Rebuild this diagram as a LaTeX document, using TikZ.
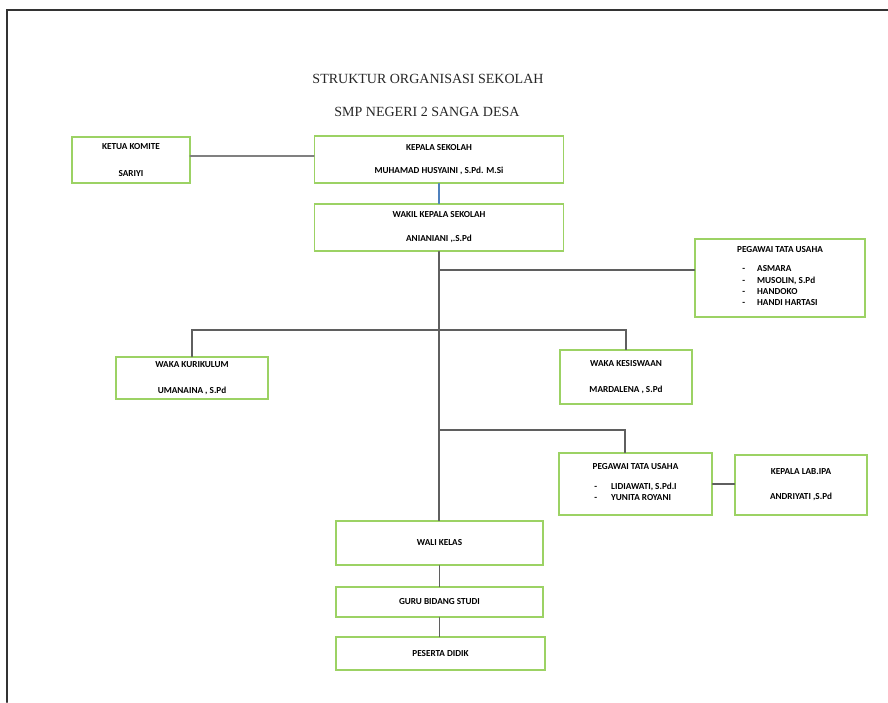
\documentclass[tikz,border=0pt]{standalone}
\usepackage{fontspec}
\setmainfont{Liberation Serif}
\newfontfamily\boxfont{Carlito}
\usetikzlibrary{positioning}
\definecolor{boxgreen}{RGB}{156,210,100}
\definecolor{linegray}{RGB}{95,95,95}
\definecolor{lineblue}{RGB}{79,129,189}

\begin{document}
\begin{tikzpicture}[x=1pt,y=-1pt,line cap=round,
    box/.style={draw=boxgreen,line width=1.1pt,fill=white,inner sep=0pt,align=center,
                font=\boxfont\bfseries\fontsize{9.2}{11.3}\selectfont},
    twoline/.style={font=\boxfont\bfseries\fontsize{9.2}{#1}\selectfont},
    conn/.style={draw=linegray,line width=1.2pt},
    title/.style={font=\fontsize{14}{16}\selectfont,text=black!85}]

    \useasboundingbox (0,0) rectangle (888,702);
    % page frame
    \draw[line width=2.4pt,black!80] (7,702) -- (7,10) -- (888,10);

    % titles
    \node[title] (t1) at (428,79) {STRUKTUR ORGANISASI SEKOLAH};
    \node[title] (t2) at (427,112) {SMP NEGERI 2 SANGA DESA};

    % boxes
    \node[box,twoline=27,minimum width=118,minimum height=46] (komite) at (131,160) {KETUA KOMITE\\SARIYI};
    \node[box,twoline=23,minimum width=249,minimum height=47] (kepala) at (439,159.5) {KEPALA SEKOLAH\\MUHAMAD HUSYAINI , S.Pd. M.Si};
    \node[box,twoline=24,minimum width=249,minimum height=47] (wakil) at (439,227.5) {WAKIL KEPALA SEKOLAH\\ANIANIANI ,.S.Pd};
    \node[box,minimum width=170,minimum height=78] (ptu1) at (780,278) {PEGAWAI TATA USAHA\\[10pt]
        \begin{tabular}{@{}l@{\hspace{12pt}}l@{}}
        - & ASMARA\\ - & MUSOLIN, S.Pd\\ - & HANDOKO\\ - & HANDI HARTASI
        \end{tabular}};
    \node[box,twoline=26,minimum width=152,minimum height=42] (kurikulum) at (192,378) {WAKA KURIKULUM\\UMANAINA , S.Pd};
    \node[box,twoline=26,minimum width=132,minimum height=54] (kesiswaan) at (626,377) {WAKA KESISWAAN\\MARDALENA , S.Pd};
    \node[box,minimum width=153,minimum height=62] (ptu2) at (635.5,484) {PEGAWAI TATA USAHA\\[11pt]
        \begin{tabular}{@{}l@{\hspace{14pt}}l@{}}
        - & LIDIAWATI, S.Pd.I\\ - & YUNITA ROYANI
        \end{tabular}};
    \node[box,twoline=25,minimum width=132,minimum height=60] (lab) at (801,485) {KEPALA LAB.IPA\\ANDRIYATI ,S.Pd};
    \node[box,minimum width=207,minimum height=44] (wali) at (439.5,543) {WALI KELAS};
    \node[box,minimum width=207,minimum height=30] (guru) at (439.5,602) {GURU BIDANG STUDI};
    \node[box,minimum width=209,minimum height=33] (peserta) at (440.5,653.5) {PESERTA DIDIK};

    % junctions
    \coordinate (j1) at (439,270);
    \coordinate (j2) at (439,330);
    \coordinate (j3) at (439,430);
    \coordinate (j3b) at (625,430);
    \coordinate (k1) at (190,156);

    % connectors
    \draw[conn,draw=gray] (k1) -- (k1 -| kepala.west);
    \draw[line width=1.2pt,lineblue] (kepala) -- (wakil);
    \draw[conn] (wakil.south) -- (wakil.south |- wali.north);
    \draw[conn] (j1) -- (j1 -| ptu1.west);
    \draw[conn] (kurikulum.north) -- (kurikulum.north |- j2) -- (kesiswaan.north |- j2) -- (kesiswaan.north);
    \draw[conn] (j3) -- (j3b) -- (j3b |- ptu2.north);
    \draw[conn] (ptu2.east) -- (ptu2.east -| lab.west);
    \draw[conn] (wali.south) -- (wali.south |- guru.north);
    \draw[conn] (guru.south) -- (guru.south |- peserta.north);
\end{tikzpicture}
\end{document}
